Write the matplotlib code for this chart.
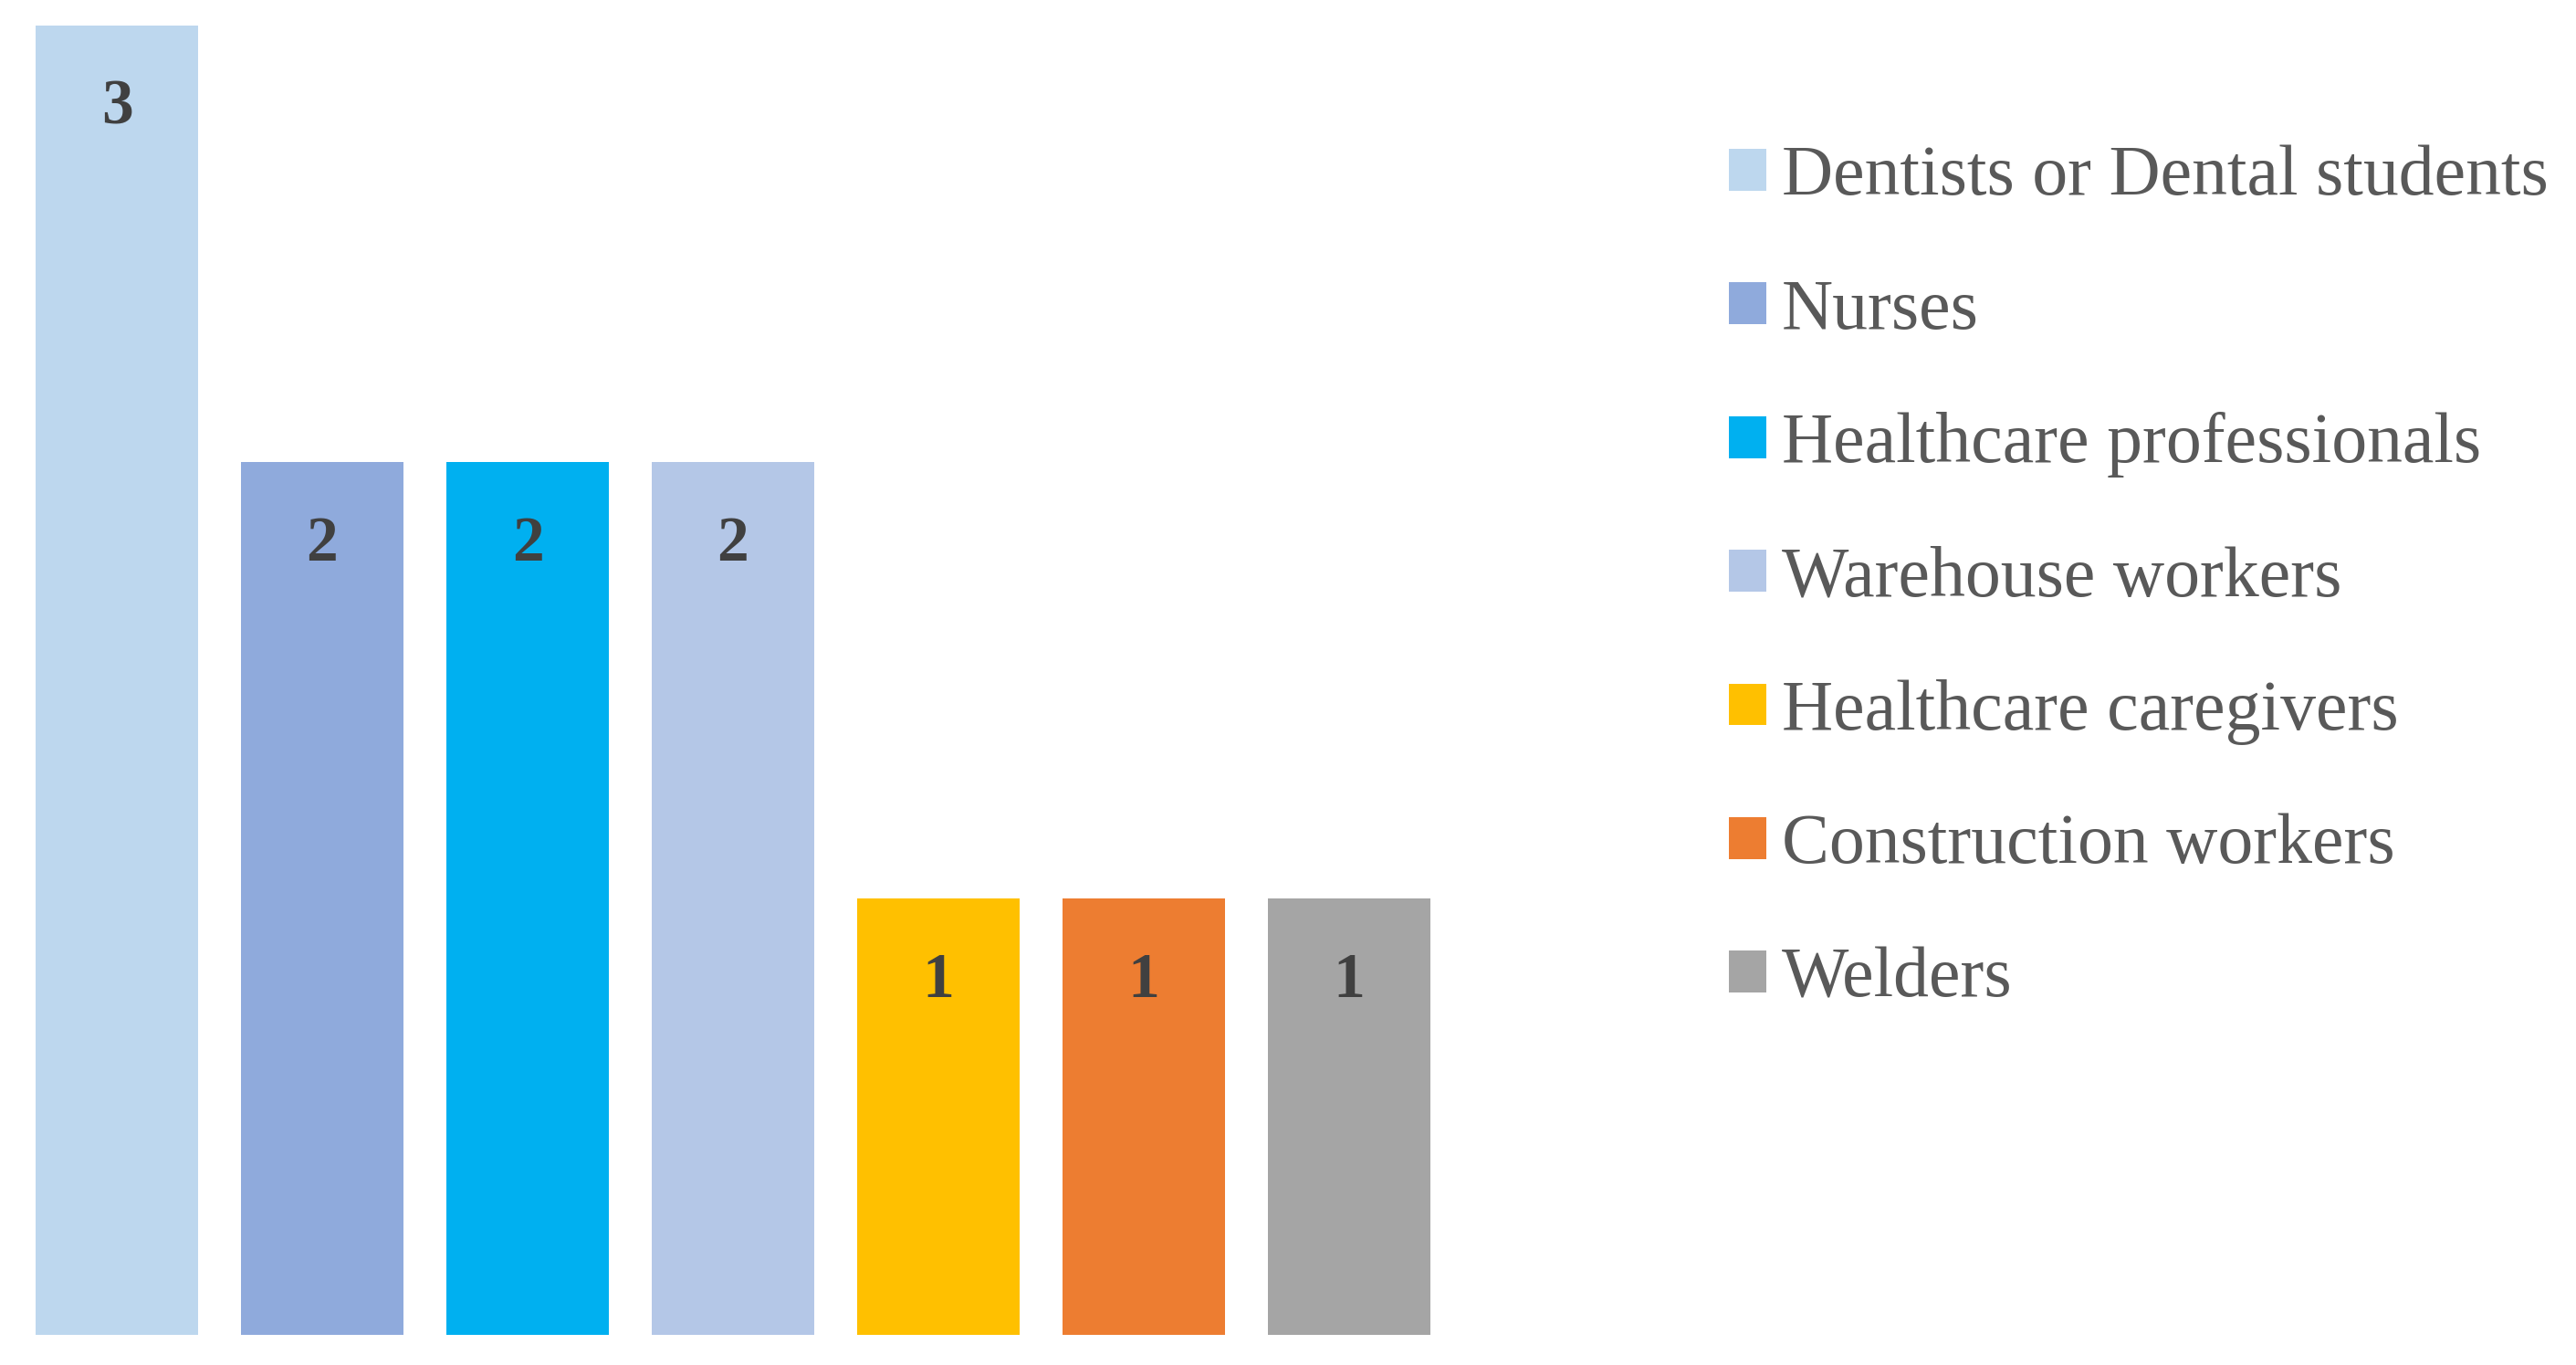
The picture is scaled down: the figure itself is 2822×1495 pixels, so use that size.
import matplotlib.pyplot as plt
from matplotlib.patches import Patch

categories = ['Dentists or Dental students', 'Nurses', 'Healthcare professionals',
              'Warehouse workers', 'Healthcare caregivers', 'Construction workers', 'Welders']
counts = [3, 2, 2, 2, 1, 1, 1]
colors = ['#BDD7EE', '#8FAADC', '#00B0F0', '#B4C7E7', '#FFC000', '#ED7D31', '#A5A5A5']

plt.rcParams['font.family'] = ['Liberation Serif', 'DejaVu Serif']

fig = plt.figure(figsize=(28.22, 14.95), dpi=100)
ax = fig.add_axes([0, 0, 1, 1])

x = list(range(len(counts)))
bars = ax.bar(x, counts, width=0.79, color=colors)

# value labels inside the top of each bar
for xi, v in zip(x, counts):
    ax.text(xi, v - 0.19, str(v), ha='center', va='center',
            fontsize=50, fontweight='bold', color='#404040')

# pixel-ish mapping: 225 px per bar slot, ~478 px per unit
ax.set_xlim(-128 / 225, (2822 - 128) / 225)
ax.set_ylim(-33 / 478, (1495 - 33) / 478)
ax.axis('off')

handles = [Patch(facecolor=c, edgecolor='none') for c in colors]
leg = ax.legend(handles, categories, loc='upper left', bbox_to_anchor=(1855 / 2822, 1 - 120 / 1495),
                bbox_transform=fig.transFigure, frameon=False, fontsize=56, borderpad=0,
                handlelength=0.53, handleheight=0.53, handletextpad=0.22, labelspacing=0.96)
for t in leg.get_texts():
    t.set_color('#595959')

fig.savefig('out.png', dpi=100, facecolor='white')
